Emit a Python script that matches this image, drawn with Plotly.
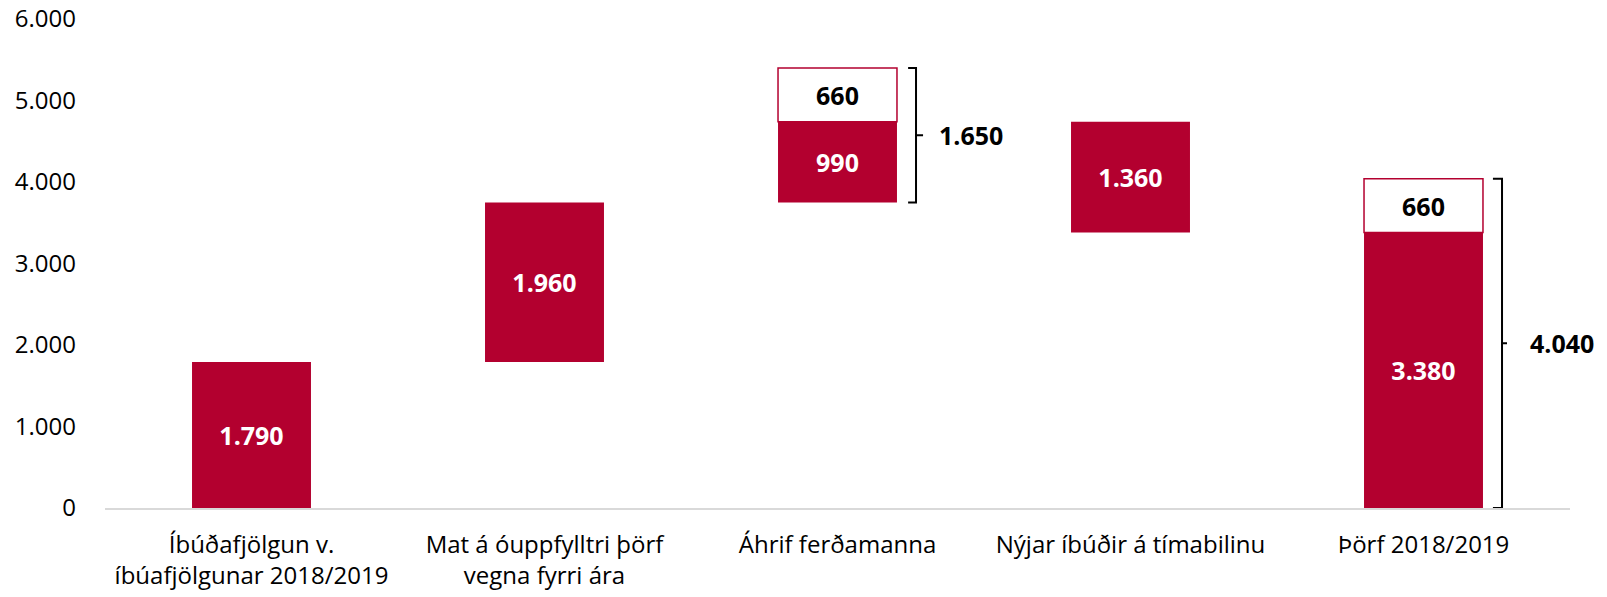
import plotly.graph_objects as go

categories = ["Íbúðafjölgun v.<br>íbúafjölgunar 2018/2019",
              "Mat á óuppfylltri þörf<br>vegna fyrri ára",
              "Áhrif ferðamanna",
              "Nýjar íbúðir á tímabilinu",
              "Þörf 2018/2019"]
red_base = [0, 1790, 3750, 3380, 0]
red_vals = [1790, 1960, 990, 1360, 3380]
white_base = [None, None, 4740, None, 3380]
white_vals = [None, None, 660, None, 660]
bracket_idx = [2, 4]
bracket_totals = [1650, 4040]

RED = "#B3002F"
FONT = "Open Sans"
BW = 0.406

def fmt(v):
    return f"{v:,.0f}".replace(",", ".")

x = list(range(len(categories)))

fig = go.Figure()
fig.add_trace(go.Bar(
    x=x, y=red_vals, base=red_base, width=BW,
    marker=dict(color=RED, line=dict(width=0)),
    text=[fmt(v) for v in red_vals], textposition="inside",
    insidetextanchor="middle",
    textfont=dict(color="white", size=25, family=FONT, weight="bold"),
    showlegend=False, hoverinfo="skip"))
fig.add_trace(go.Bar(
    x=x, y=white_vals, base=white_base, width=BW,
    marker=dict(color="white", line=dict(width=1.5, color=RED)),
    text=[fmt(v) if v else "" for v in white_vals], textposition="inside",
    insidetextanchor="middle",
    textfont=dict(color="black", size=25, family=FONT, weight="bold"),
    showlegend=False, hoverinfo="skip"))

# brackets
offsets = {2: (0.038, 0.065, 0.089, 0.456), 4: (0.034, 0.065, 0.082, 0.471)}
for i, tot in zip(bracket_idx, bracket_totals):
    lo = min(red_base[i], white_base[i])
    hi = white_base[i] + white_vals[i]
    mid = (lo + hi) / 2
    a, b, c, t = offsets[i]
    edge = i + BW / 2
    x0, x1, x2 = edge + a, edge + b, edge + c
    path = (f"M {x0},{hi} L {x1},{hi} L {x1},{mid} L {x2},{mid} "
            f"M {x1},{mid} L {x1},{lo} L {x0},{lo}")
    fig.add_shape(type="path", path=path, xref="x", yref="y",
                  line=dict(color="black", width=2))
    fig.add_annotation(x=i + t, y=mid, text=f"<b>{fmt(tot)}</b>", showarrow=False,
                       xref="x", yref="y",
                       font=dict(size=25, color="black", family=FONT))

fig.update_layout(
    width=1607, height=597,
    barmode="overlay",
    separators=",.",
    paper_bgcolor="white", plot_bgcolor="white",
    margin=dict(l=105, r=37, t=19, b=89),
    font=dict(family=FONT, size=24, color="black"),
    xaxis=dict(tickmode="array", tickvals=x, ticktext=categories,
               range=[-0.5, 4.5], showgrid=False, showline=True,
               linecolor="#D9D9D9", linewidth=1.5, ticks="", zeroline=False,
               tickfont=dict(size=24, family=FONT), ticklabelstandoff=14,
               automargin=False),
    yaxis=dict(range=[0, 6000], dtick=1000, tickformat=",d", showgrid=False,
               zeroline=False, showline=False, ticks="",
               tickfont=dict(size=24, family=FONT), ticklabelstandoff=28,
               automargin=False),
)

fig.write_html("out.html", config={"displayModeBar": False},
               post_script="document.body.style.margin='0';")
